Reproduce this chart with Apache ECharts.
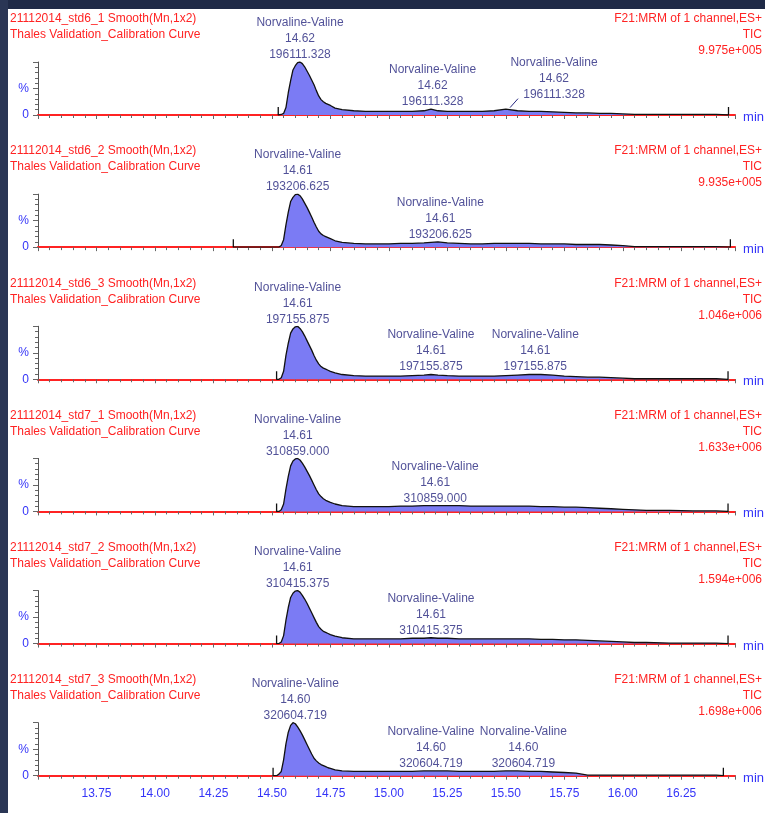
<!DOCTYPE html>
<html>
<head>
<meta charset="utf-8">
<script src="https://cdn.jsdelivr.net/npm/echarts@6/dist/echarts.min.js"></script>
<style>
  html, body { margin: 0; padding: 0; width: 765px; height: 813px; overflow: hidden; background: #1f2a47; }
  #edge { position: absolute; left: 0; top: 0; width: 8px; height: 813px; background: #2a3655; }
  #paper { position: absolute; left: 8px; top: 9px; right: 0; bottom: 0; background: #ffffff; }
  #chart { position: absolute; left: 0; top: 0; width: 765px; height: 813px; }
</style>
</head>
<body>
<div id="edge"></div>
<div id="paper"></div>
<div id="chart"></div>
<script>
// Sample runs, one chromatogram each
const sampleNames = [
  '21112014_std6_1 Smooth(Mn,1x2)',
  '21112014_std6_2 Smooth(Mn,1x2)',
  '21112014_std6_3 Smooth(Mn,1x2)',
  '21112014_std7_1 Smooth(Mn,1x2)',
  '21112014_std7_2 Smooth(Mn,1x2)',
  '21112014_std7_3 Smooth(Mn,1x2)'
];
const experimentName = 'Thales Validation_Calibration Curve';
const channelName = 'F21:MRM of 1 channel,ES+';
const traceType = 'TIC';
const fullScale = ['9.975e+005', '9.935e+005', '1.046e+006', '1.633e+006', '1.594e+006', '1.698e+006'];

// Peak annotation text
const compoundName = 'Norvaline-Valine';
const peakRT = ['14.62', '14.61', '14.61', '14.61', '14.61', '14.60'];
const peakArea = ['196111.328', '193206.625', '197155.875', '310859.000', '310415.375', '320604.719'];

// Where each annotation sits: retention time (min) and intensity (%)
const annotTime = [
  [14.62, 15.187, 15.518],
  [14.61, 15.22],
  [14.61, 15.18, 15.626],
  [14.61, 15.198],
  [14.61, 15.18],
  [14.60, 15.18, 15.575]
];
const annotLevel = [
  [100, 11, 12],
  [100, 10],
  [100, 10, 10],
  [100, 10],
  [100, 12],
  [100, 9, 9]
];

// Acquisition window of each run (min) and the scan marker height (%)
const scanStart = [14.527, 14.335, 14.52, 14.52, 14.52, 14.505];
const scanEnd   = [16.452, 16.46, 16.45, 16.45, 16.45, 16.43];
const scanMark  = [15, 15, 15, 15, 15, 15];

// Retention time grid (min)
const rt = [14.52, 14.53, 14.54, 14.55, 14.56, 14.57, 14.58, 14.59, 14.60, 14.61, 14.62, 14.63, 14.64, 14.65,
  14.66, 14.67, 14.68, 14.69, 14.70, 14.71, 14.72, 14.73, 14.74, 14.75, 14.77, 14.80, 14.85, 14.90, 14.95,
  15.00, 15.05, 15.10, 15.15, 15.18, 15.21, 15.25, 15.30, 15.35, 15.40, 15.45, 15.50, 15.55, 15.60, 15.65,
  15.70, 15.75, 15.80, 15.85, 15.90, 15.95, 16.00, 16.05, 16.10, 16.20, 16.30, 16.40];

// Relative intensity (%) on the grid above
const std6_1 = [0, 0, 1, 3, 14, 42, 65, 85, 93, 99, 100, 97, 91, 83, 75, 66, 57, 46, 36, 29, 25, 22, 20, 18, 13, 10, 8,
  7, 7, 7, 7, 7, 8, 11, 8, 7, 7, 7, 7, 8, 11, 8, 7, 7, 6, 5, 4, 4, 3, 3, 2, 1, 1, 1, 1, 1];
const std6_2 = [0, 0, 3, 14, 42, 66, 86, 94, 99, 100, 97, 91, 83, 75, 66, 57, 47, 38, 30, 25, 22, 20, 18, 16, 12, 9, 7,
  6, 6, 6, 7, 7, 8, 9, 10, 8, 7, 6, 6, 7, 7, 7, 7, 6, 6, 6, 5, 5, 5, 4, 3, 1, 1, 1, 1, 1];
const std6_3 = [0, 0, 3, 15, 45, 68, 87, 95, 99, 100, 96, 90, 82, 73, 64, 55, 45, 36, 29, 24, 21, 19, 17, 15, 12, 9, 7,
  6, 6, 6, 6, 7, 8, 9, 8, 7, 6, 6, 6, 6, 7, 8, 9, 9, 8, 6, 5, 4, 4, 3, 2, 1, 1, 1, 1, 1];
const std7_1 = [0, 0, 3, 14, 42, 66, 86, 95, 99, 100, 97, 91, 84, 76, 68, 59, 50, 41, 33, 28, 24, 21, 19, 17, 14, 11, 9,
  9, 9, 9, 10, 10, 11, 11, 11, 11, 11, 10, 10, 10, 10, 10, 10, 9, 9, 8, 8, 7, 6, 5, 4, 3, 2, 2, 1, 1];
const std7_2 = [0, 0, 3, 15, 44, 68, 87, 95, 99, 100, 97, 91, 84, 76, 67, 58, 49, 40, 32, 27, 23, 21, 19, 17, 14, 11, 9,
  9, 9, 9, 9, 10, 10, 11, 10, 10, 9, 9, 9, 9, 9, 9, 9, 8, 8, 7, 7, 6, 5, 4, 3, 2, 2, 1, 1, 1];
const std7_3 = [0, 3, 8, 30, 60, 82, 95, 100, 98, 92, 85, 77, 68, 59, 50, 41, 33, 28, 24, 21, 19, 17, 15, 14, 11, 9, 8,
  8, 8, 8, 8, 8, 9, 9, 9, 9, 8, 8, 8, 8, 9, 9, 8, 8, 7, 6, 5, 1, 1, 1, 1, 1, 1, 1, 1, 1];
const traces = [std6_1, std6_2, std6_3, std7_1, std7_2, std7_3];

// ---- drawing ----
const FONT = '"Liberation Sans", Arial, sans-serif';
const RED = '#ff2323';
const NAVY = '#26267e';
const BLUE = '#3434f8';
const FILL = '#7b7bf4';
const TICK = '#666666';

const PANEL_TOP = 62;      // top of first plot area
const PANEL_STEP = 132.14; // vertical spacing between runs
const PLOT_H = 53;

// label offset (px) for annotations drawn with a leader line, keyed "panel-annotation"
const leaderShift = { '0-2': [44, -7] };

function buildTrace(i) {
  const pts = [[scanStart[i], scanMark[i]], [scanStart[i], 0]];
  rt.forEach((t, j) => {
    if (t > scanStart[i] && t < scanEnd[i]) pts.push([t, traces[i][j]]);
  });
  pts.push([scanEnd[i], 0], [scanEnd[i], scanMark[i]]);
  return pts;
}

const grids = [], xAxes = [], yAxes = [], series = [], titles = [];
for (let i = 0; i < 6; i++) {
  const top = PANEL_TOP + i * PANEL_STEP;
  const base = top + PLOT_H;
  grids.push({ left: 38, right: 29, top: top, height: PLOT_H });

  xAxes.push({
    type: 'value', gridIndex: i, min: 13.5, max: 16.48, interval: 0.25,
    name: 'min', nameLocation: 'end', nameGap: 8,
    nameTextStyle: { color: BLUE, fontSize: 13, fontFamily: FONT, verticalAlign: 'top', lineHeight: 5 },
    axisLine: { show: true, onZero: false, lineStyle: { color: RED, width: 2 } },
    axisTick: { show: true, length: 4, lineStyle: { color: TICK, width: 1 } },
    minorTick: { show: true, splitNumber: 5, length: 3, lineStyle: { color: TICK, width: 1 } },
    splitLine: { show: false }, minorSplitLine: { show: false },
    axisLabel: {
      show: i === 5, showMinLabel: false, showMaxLabel: false, margin: 12,
      color: BLUE, fontSize: 12, fontFamily: FONT,
      formatter: v => v.toFixed(2)
    }
  });

  yAxes.push({
    type: 'value', gridIndex: i, min: 0, max: 100, interval: 50,
    axisLine: { show: true, lineStyle: { color: '#555555', width: 1 } },
    axisTick: { show: true, length: 5, lineStyle: { color: TICK, width: 1 } },
    minorTick: { show: true, splitNumber: 5, length: 3, lineStyle: { color: TICK, width: 1 } },
    splitLine: { show: false },
    axisLabel: {
      margin: 9, color: BLUE, fontSize: 12, fontFamily: FONT,
      formatter: v => (v === 0 ? '0' : (v === 50 ? '%' : ''))
    }
  });

  titles.push({
    left: 10, top: base - 104, padding: 0,
    text: sampleNames[i] + '\n' + experimentName,
    textStyle: { color: RED, fontSize: 12, fontWeight: 'normal', fontFamily: FONT, lineHeight: 16 }
  });
  titles.push({
    left: 'right', top: base - 104, padding: [0, 3, 0, 0],
    text: channelName + '\n' + traceType + '\n' + fullScale[i],
    textStyle: { color: RED, fontSize: 12, fontWeight: 'normal', fontFamily: FONT, lineHeight: 16 }
  });

  series.push({
    type: 'line', xAxisIndex: i, yAxisIndex: i, data: buildTrace(i),
    symbol: 'none', showSymbol: false, silent: true, z: 3,
    lineStyle: { color: '#111111', width: 1.3 },
    areaStyle: { color: FILL, opacity: 1 }
  });

  series.push({
    type: 'scatter', xAxisIndex: i, yAxisIndex: i,
    data: annotTime[i].map((t, k) => [t, annotLevel[i][k]]),
    symbolSize: 0, silent: true, z: 5,
    label: {
      show: true, position: 'top', distance: -1,
      color: NAVY, fontSize: 12, fontFamily: FONT, lineHeight: 16, align: 'center',
      formatter: () => compoundName + '\n' + peakRT[i] + '\n' + peakArea[i]
    },
    labelLayout: p => {
      const s = leaderShift[i + '-' + p.dataIndex];
      return s ? { dx: s[0], dy: s[1] } : {};
    }
  });
}

const chart = echarts.init(document.getElementById('chart'), null, { renderer: 'canvas' });
chart.setOption({
  animation: false,
  backgroundColor: 'transparent',
  title: titles,
  grid: grids,
  xAxis: xAxes,
  yAxis: yAxes,
  series: series
});

// short leader lines from a peak to its displaced annotation
const leaders = Object.keys(leaderShift).map(key => {
  const [p, k] = key.split('-').map(Number);
  const a = chart.convertToPixel({ gridIndex: p }, [annotTime[p][k], annotLevel[p][k]]);
  return {
    type: 'line', silent: true, z: 10,
    shape: { x1: a[0], y1: a[1] - 1, x2: a[0] + 8, y2: a[1] - 10 },
    style: { stroke: NAVY, lineWidth: 1 }
  };
});
chart.setOption({ graphic: leaders });
</script>
</body>
</html>
